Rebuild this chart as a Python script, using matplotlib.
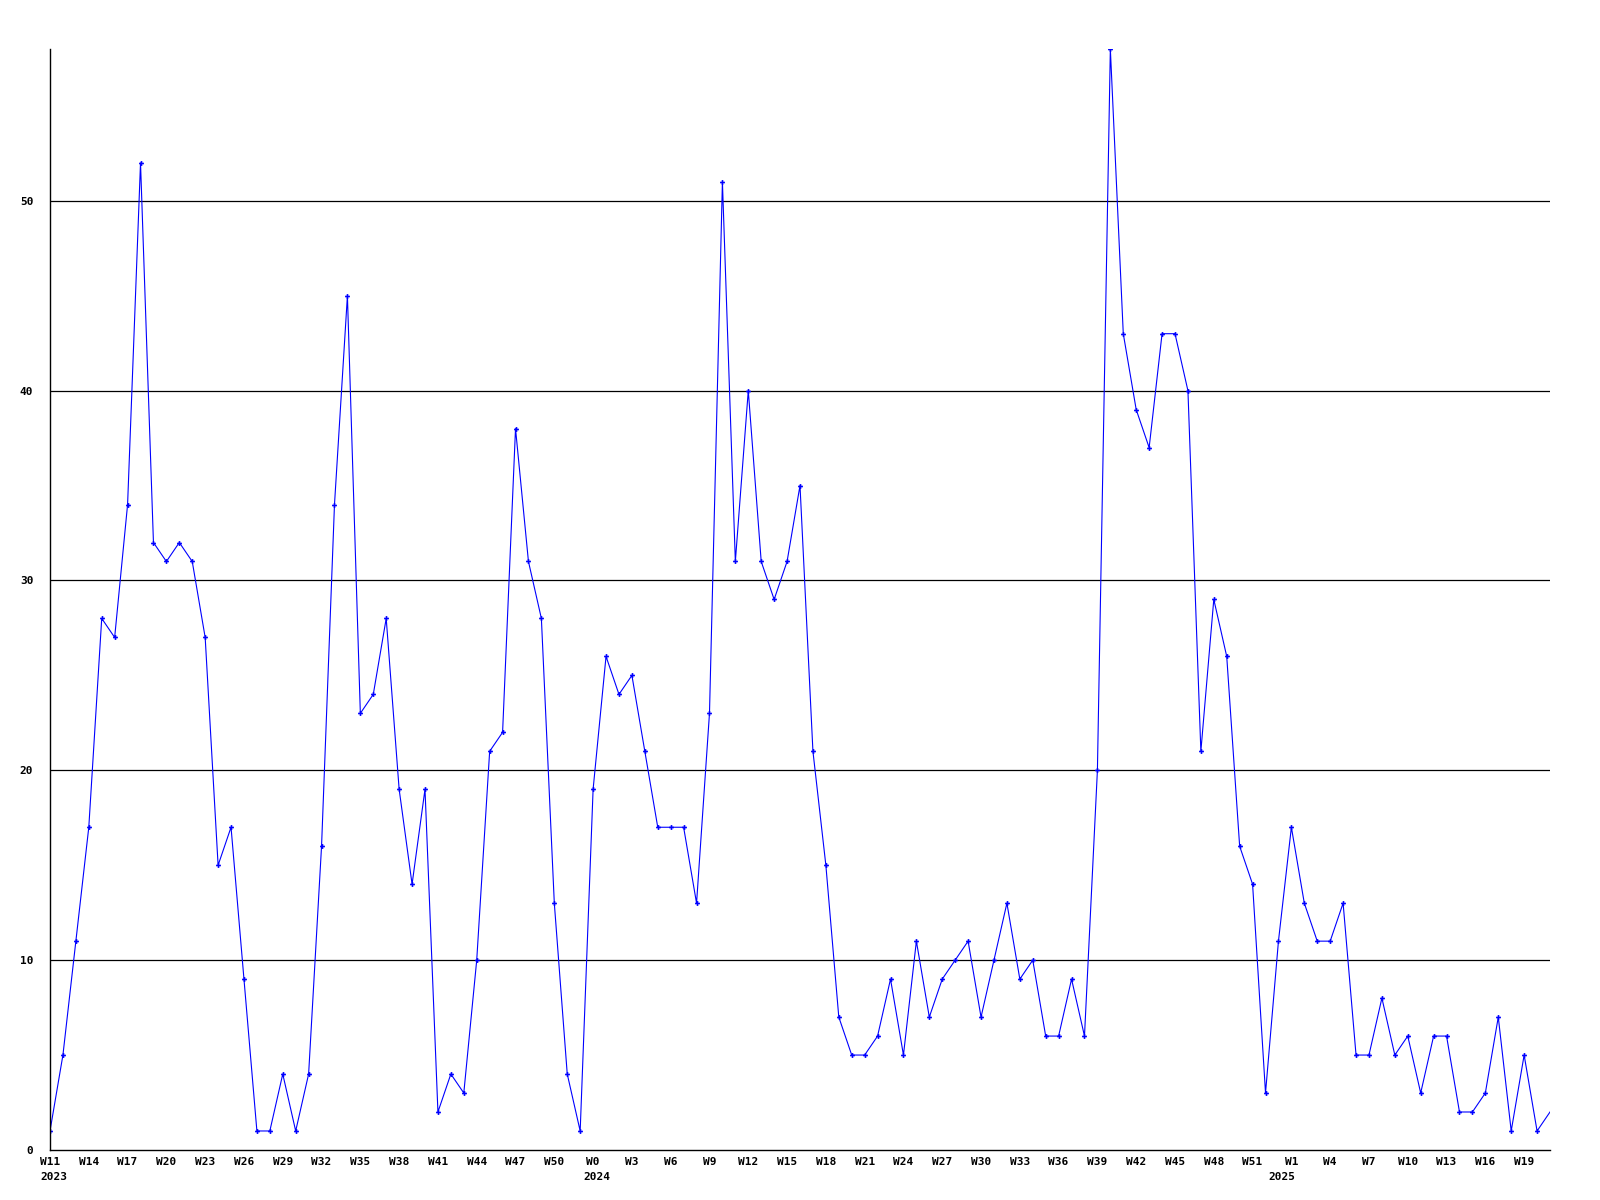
import matplotlib.pyplot as plt

# weekly counts, W11 2023 .. W21 2025
values = [1, 5, 11, 17, 28, 27, 34, 52, 32, 31, 32, 31, 27, 15, 17, 9, 1, 1, 4, 1,
          4, 16, 34, 45, 23, 24, 28, 19, 14, 19, 2, 4, 3, 10, 21, 22, 38, 31, 28, 13,
          4, 1, 19, 26, 24, 25, 21, 17, 17, 17, 13, 23, 51, 31, 40, 31, 29, 31, 35, 21,
          15, 7, 5, 5, 6, 9, 5, 11, 7, 9, 10, 11, 7, 10, 13, 9, 10, 6, 6, 9,
          6, 20, 58, 43, 39, 37, 43, 43, 40, 21, 29, 26, 16, 14, 3, 11, 17, 13, 11, 11,
          13, 5, 5, 8, 5, 6, 3, 6, 6, 2, 2, 3, 7, 1, 5, 1, 2]

tick_labels = ["W11", "W14", "W17", "W20", "W23", "W26", "W29", "W32", "W35", "W38",
               "W41", "W44", "W47", "W50", "W0", "W3", "W6", "W9", "W12", "W15",
               "W18", "W21", "W24", "W27", "W30", "W33", "W36", "W39", "W42", "W45",
               "W48", "W51", "W1", "W4", "W7", "W10", "W13", "W16", "W19"]
years = ["2023", "2024", "2025"]
year_start = [0, 42, 95]

font = {"family": "DejaVu Sans Mono", "weight": "bold", "size": 8}

fig = plt.figure(figsize=(16, 12), dpi=100)
ax = fig.add_axes([0.03125, 0.0417, 0.9375, 0.9175])

x = list(range(len(values)))
ax.plot(x, values, color="#0000ff", linewidth=0.8)
ax.plot(x[:-1], values[:-1], linestyle="none", marker="P", markersize=3.5,
        color="#0000ff", markeredgewidth=0)

ax.set_xlim(0, len(values) - 1)
ax.set_ylim(0, 58)

ax.set_yticks([0, 10, 20, 30, 40, 50])
ax.set_yticklabels(["0", "10", "20", "30", "40", "50"], fontdict=font)
ax.set_xticks(range(0, len(values), 3))
ax.set_xticklabels(tick_labels, fontdict=font)
ax.tick_params(axis="y", length=0, pad=12)
ax.tick_params(axis="x", length=0, pad=5)

# black horizontal grid lines
for v in [10, 20, 30, 40, 50]:
    ax.axhline(v, color="black", linewidth=0.9, zorder=0)

for yr, i in zip(years, year_start):
    ax.annotate(yr, xy=(i, 0), xycoords=("data", "axes fraction"),
                xytext=(-10, -27), textcoords="offset pixels",
                ha="left", va="center", **font)

ax.spines["top"].set_visible(False)
ax.spines["right"].set_visible(False)
ax.spines["left"].set_linewidth(1)
ax.spines["bottom"].set_linewidth(1)

plt.savefig("out.png")
